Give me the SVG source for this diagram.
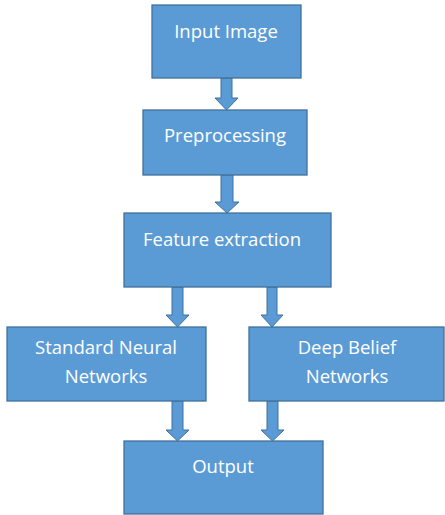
<svg xmlns="http://www.w3.org/2000/svg" width="445" height="515" viewBox="0 0 445 515">
<style>
.box{fill:#5B9BD5;stroke:#41719C;stroke-width:1.3}
.arr{fill:#5B9BD5;stroke:#41719C;stroke-width:1}
text{font-family:"Open Sans","Noto Sans",sans-serif;font-size:18.5px;fill:#FFFFFF;text-anchor:middle}
</style>
<rect width="445" height="515" fill="#FFFFFF"/>
<g id="connectors">
<polygon class="arr" points="221,78 232,78 232,98 238,98 226.5,110 215,98 221,98"/>
<polygon class="arr" points="221,175 233,175 233,202 239,202 227,213 215,202 221,202"/>
<polygon class="arr" points="172,287 183,287 183,315 189,315 177.5,327 166,315 172,315"/>
<polygon class="arr" points="267,287 277,287 277,315 283,315 272,327 261,315 267,315"/>
<polygon class="arr" points="172,401 183,401 183,430 189,430 177.5,441 166,430 172,430"/>
<polygon class="arr" points="267,401 278,401 278,430 284,430 272.5,441 261,430 267,430"/>
</g>
<g id="input"><rect class="box" x="152" y="5" width="149" height="73"/><text x="226" y="38">Input Image</text></g>
<g id="preprocessing"><rect class="box" x="143" y="110" width="164" height="65"/><text x="225" y="142">Preprocessing</text></g>
<g id="feature"><rect class="box" x="124" y="213" width="207" height="74"/><text x="222" y="246">Feature extraction</text></g>
<g id="snn"><rect class="box" x="7" y="327" width="199" height="74"/><text x="106" y="354">Standard Neural</text><text x="106" y="383">Networks</text></g>
<g id="dbn"><rect class="box" x="249" y="327" width="195" height="74"/><text x="347" y="354">Deep Belief</text><text x="347" y="383">Networks</text></g>
<g id="output"><rect class="box" x="124" y="441" width="199" height="73"/><text x="223" y="473">Output</text></g>
</svg>
